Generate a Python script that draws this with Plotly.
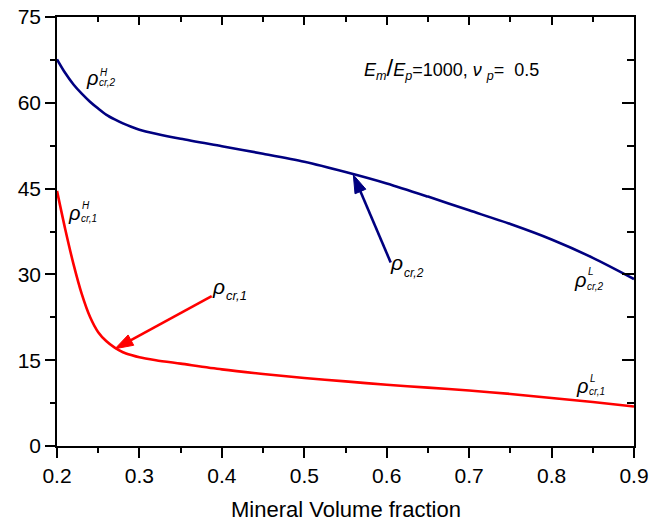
import plotly.graph_objects as go

# ---- data ----
vf = [0.20, 0.21, 0.22, 0.23, 0.24, 0.25, 0.26, 0.27, 0.28, 0.29, 0.30, 0.32,
      0.35, 0.40, 0.45, 0.50, 0.55, 0.60, 0.65, 0.70, 0.75, 0.80, 0.85, 0.90]
rho_cr2 = [67.6, 65.2, 63.2, 61.6, 60.2, 59.0, 57.9, 57.1, 56.4, 55.8, 55.3, 54.6,
           53.7, 52.4, 51.1, 49.7, 47.9, 45.9, 43.6, 41.2, 38.8, 36.1, 32.9, 29.2]
rho_cr1 = [44.6, 37.9, 31.8, 26.6, 22.6, 19.9, 18.3, 17.2, 16.4, 15.9, 15.5, 15.0,
           14.4, 13.4, 12.6, 11.9, 11.3, 10.7, 10.2, 9.7, 9.1, 8.4, 7.7, 6.9]

x_ticks = [0.2, 0.3, 0.4, 0.5, 0.6, 0.7, 0.8, 0.9]
y_ticks = [0, 15, 30, 45, 60, 75]

# arrows: [tail, tip]
arrow1_x = [0.3877, 0.2704]
arrow1_y = [26.2, 17.0]
arrow2_x = [0.6048, 0.5595]
arrow2_y = [32.1, 47.4]

BLUE = "#000080"
RED = "#ff0000"
FONT = "Liberation Sans, Arial, sans-serif"

fig = go.Figure()
fig.add_trace(go.Scatter(x=vf, y=rho_cr2, mode="lines", line=dict(color=BLUE, width=2.6, shape="spline", smoothing=0.8),
                         showlegend=False, hoverinfo="skip"))
fig.add_trace(go.Scatter(x=vf, y=rho_cr1, mode="lines", line=dict(color=RED, width=2.6, shape="spline", smoothing=0.8),
                         showlegend=False, hoverinfo="skip"))
for ax_, ay_, col in [(arrow1_x, arrow1_y, RED), (arrow2_x, arrow2_y, BLUE)]:
    fig.add_trace(go.Scatter(x=ax_, y=ay_, mode="lines+markers",
                             line=dict(color=col, width=2.6),
                             marker=dict(symbol="arrow", size=[0, 19], color=col, angleref="previous",
                                         opacity=1, line=dict(width=1, color=col)),
                             showlegend=False, hoverinfo="skip"))
# dummy trace for mirrored (inside) tick axes
fig.add_trace(go.Scatter(x=[0.2], y=[-10], xaxis="x2", yaxis="y2", mode="markers",
                         marker=dict(size=1, opacity=0), showlegend=False, hoverinfo="skip"))

annotations = []

def rho_label(x, y, sub, sup=None, sub_dy=-3, sup_dy=10, rho_size=19, sub_size=10):
    annotations.append(dict(x=x, y=y, xref="x", yref="y", text="<i>ρ</i>", showarrow=False,
                            xanchor="right", yanchor="middle", yshift=3,
                            font=dict(family=FONT, size=rho_size, color="black")))
    annotations.append(dict(x=x, y=y, xref="x", yref="y", text="<i>%s</i>" % sub, showarrow=False,
                            xanchor="left", yanchor="middle", yshift=sub_dy, xshift=-3,
                            font=dict(family=FONT, size=sub_size, color="black")))
    if sup:
        annotations.append(dict(x=x, y=y, xref="x", yref="y", text="<i>%s</i>" % sup, showarrow=False,
                                xanchor="left", yanchor="middle", yshift=sup_dy, xshift=-2,
                                font=dict(family=FONT, size=sub_size, color="black")))

rho_label(0.2525, 63.84, "cr,2", "H", sub_dy=-2, sup_dy=8.5, rho_size=20)
rho_label(0.2303, 40.29, "cr,1", "H", sub_dy=-3, sup_dy=10, rho_size=20)
rho_label(0.4062, 27.39, "cr,1", None, sub_dy=-6, sub_size=13, rho_size=21)
rho_label(0.6222, 31.48, "cr,2", None, sub_dy=-7, sub_size=12, rho_size=21)
rho_label(0.8442, 28.43, "cr,2", "L", sub_dy=-3, sup_dy=11.5, rho_size=20)
rho_label(0.8466, 10.03, "cr,1", "L", sub_dy=-2.5, sup_dy=10.5, rho_size=20)

# parameter text
annotations.append(dict(x=0.6786, y=65.93, xref="x", yref="y", showarrow=False,
                        xanchor="center", yanchor="middle",
                        text="<i>E</i><sub><i>m</i></sub><span style='font-size:24px'>/</span><i>E</i><sub><i>p</i></sub>"
                             "=1000, <i>ν</i> <sub><i>p</i></sub>=  0.5",
                        font=dict(family=FONT, size=18, color="black")))

# x-axis title
annotations.append(dict(x=0.5, y=-(509 - 446) / 429, xref="paper", yref="paper", showarrow=False,
                        xanchor="center", yanchor="middle", text="Mineral Volume fraction",
                        font=dict(family=FONT, size=22, color="black")))

axis_common = dict(showgrid=False, zeroline=False, showline=True, linecolor="black", linewidth=1.5,
                   tickcolor="black", tickwidth=1.5, automargin=False)

fig.update_layout(
    width=652, height=525,
    margin=dict(l=57, r=18, t=17, b=79),
    paper_bgcolor="white", plot_bgcolor="white",
    font=dict(family=FONT, size=21, color="black"),
    xaxis=dict(range=[0.2, 0.9], tickvals=x_ticks, ticktext=["%.1f" % v for v in x_ticks],
               ticks="outside", ticklen=10, minor=dict(dtick=0.05, tick0=0.2, ticks="outside", ticklen=5,
                                                      tickcolor="black", tickwidth=1.5),
               tickfont=dict(size=21),
               **axis_common),
    yaxis=dict(range=[0, 75], tickvals=y_ticks, ticktext=[str(v) for v in y_ticks],
               ticks="outside", ticklen=10, minor=dict(dtick=7.5, tick0=0, ticks="outside", ticklen=5,
                                                      tickcolor="black", tickwidth=1.5),
               tickfont=dict(size=21),
               **axis_common),
    xaxis2=dict(range=[0.2, 0.9], overlaying="x", side="top", tickvals=x_ticks, showticklabels=False,
                ticks="inside", ticklen=8, minor=dict(dtick=0.05, tick0=0.2, ticks="inside", ticklen=5,
                                                     tickcolor="black", tickwidth=1.5),
                **axis_common),
    yaxis2=dict(range=[0, 75], overlaying="y", side="right", tickvals=y_ticks, showticklabels=False,
                ticks="inside", ticklen=12, minor=dict(dtick=7.5, tick0=0, ticks="inside", ticklen=7,
                                                      tickcolor="black", tickwidth=1.5),
                **axis_common),
    annotations=annotations,
)

fig.write_html("out.html")
